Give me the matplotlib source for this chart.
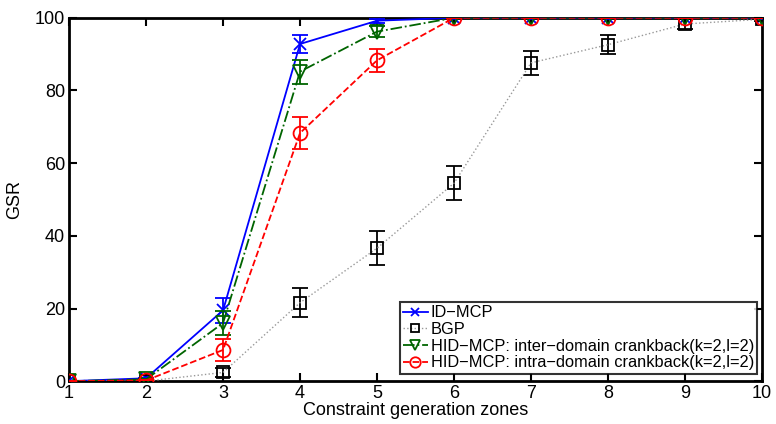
import numpy as np
import matplotlib
matplotlib.use("Agg")
import matplotlib.pyplot as plt

plt.rcParams["font.family"] = ["Liberation Sans", "DejaVu Sans"]

zones = [1, 2, 3, 4, 5, 6, 7, 8, 9, 10]
id_mcp = [0, 0.8, 19.5, 92.8, 99.2, 100, 100, 100, 100, 100]
id_mcp_err = [0, 0, 3.5, 2.5, 0.6, 0, 0, 0, 0, 0]
bgp = [0, 0, 2.4, 21.6, 36.6, 54.5, 87.6, 92.6, 98.3, 99.6]
bgp_err = [0, 0, 1.2, 4.0, 4.7, 4.7, 3.3, 2.6, 1.3, 0.4]
inter = [0, 0.5, 16.0, 85.2, 96.2, 100, 100, 100, 100, 100]
inter_err = [0, 0, 3.2, 3.3, 1.6, 0, 0, 0, 0, 0]
intra = [0, 0.2, 8.6, 68.3, 88.3, 100, 100, 100, 100, 100]
intra_err = [0, 0, 3.0, 4.5, 3.2, 0, 0, 0, 0, 0]

fig = plt.figure(figsize=(7.76, 4.24), dpi=100)
ax = fig.add_axes([0.089, 0.101, 0.893, 0.857])

# (values, errors, line colour, marker edge colour, linestyle, marker, size, label)
series = [
    (id_mcp, id_mcp_err, "blue", "blue", "-", "x", 8, "ID\u2212MCP"),
    (bgp, bgp_err, "0.6", "black", ":", "s", 8, "BGP"),
    (inter, inter_err, "#006400", "#006400", "-.", "v", 10,
     "HID\u2212MCP: inter\u2212domain crankback(k=2,l=2)"),
    (intra, intra_err, "red", "red", "--", "o", 10,
     "HID\u2212MCP: intra\u2212domain crankback(k=2,l=2)"),
]
for i, (y, e, lc, mc, ls, mk, ms, lbl) in enumerate(series):
    ax.errorbar(zones, y, yerr=e, fmt="none", ecolor=mc, capsize=6,
                elinewidth=1.3, capthick=1.3, zorder=3 + i)
    ax.plot(zones, y, color=lc, ls=ls, lw=1.3 if lc != "0.6" else 1.0,
            marker=mk, ms=ms, mfc="none", mec=mc, mew=1.3, label=lbl,
            zorder=3 + i)

ax.set_xlim(1, 10)
ax.set_ylim(0, 100)
ax.set_xticks(zones)
ax.set_yticks([0, 20, 40, 60, 80, 100])
ax.tick_params(direction="in", top=True, right=True, labelsize=13, length=6,
               width=1.5, pad=3)
for sp in ax.spines.values():
    sp.set_linewidth(2)
ax.set_xlabel("Constraint generation zones", fontsize=13, labelpad=0)
ax.set_ylabel("GSR", fontsize=13, labelpad=8)

leg = ax.legend(loc="lower right", bbox_to_anchor=(0.998, 0.012), fontsize=11.8,
                frameon=True, fancybox=False, borderpad=0.2, labelspacing=0.1,
                handlelength=1.5, handletextpad=0.2, borderaxespad=0.2,
                markerscale=0.75)
leg.get_frame().set_edgecolor("black")
leg.get_frame().set_linewidth(1.5)

fig.savefig("out.png", dpi=100)
